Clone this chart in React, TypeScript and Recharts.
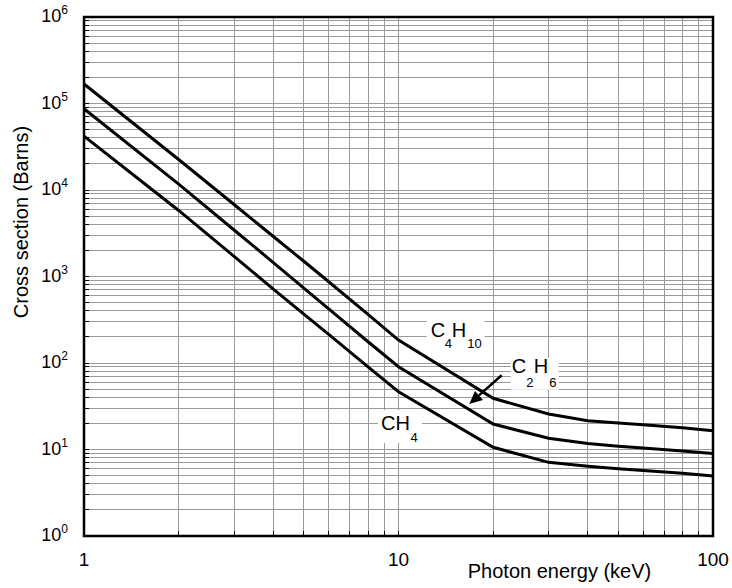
import React from 'react';
import { LineChart, Line, XAxis, YAxis, CartesianGrid, ReferenceArea, ReferenceDot } from 'recharts';

// photon energy (keV)
const energy = [1, 2, 3, 4, 5, 6, 8, 10, 20, 30, 40, 50, 60, 80, 100];
// cross sections (barns)
const c4h10 = [168000, 22500, 6800, 2900, 1500, 870, 365, 184, 39.1, 25.7, 21.5, 20.2, 19.3, 17.8, 16.5];
const c2h6 = [87000, 11700, 3450, 1450, 733, 422, 176, 90.6, 19.7, 13.5, 11.7, 10.9, 10.4, 9.6, 9.0];
const ch4 = [42000, 5800, 1710, 716, 367, 214, 90, 46.6, 10.6, 7.1, 6.4, 6.0, 5.7, 5.3, 4.95];

const xTicks = [1, 2, 3, 4, 5, 6, 7, 8, 9, 10, 20, 30, 40, 50, 60, 70, 80, 90, 100];
const xLabels = [1, 10, 100];
const decades = [0, 1, 2, 3, 4, 5];
const yTicks: number[] = [];
decades.forEach((d) => {
  for (let k = 1; k <= 9; k++) yTicks.push(k * Math.pow(10, d));
});
yTicks.push(1e6);

const data = energy.map((e, i) => ({ e, c4h10: c4h10[i], c2h6: c2h6[i], ch4: ch4[i] }));

const FONT = '"Liberation Sans", Arial, sans-serif';

function YTick(props: any) {
  const { x, y, payload } = props;
  const v = payload.value;
  const exp = Math.round(Math.log10(v));
  const major = Math.abs(v - Math.pow(10, exp)) < 1e-6 * v;
  return (
    <g>
      <line x1={x} y1={y} x2={x + 5} y2={y} stroke="#000" strokeWidth={1} shapeRendering="crispEdges" />
      {major && (
        <text x={x - 16} y={y + 5} textAnchor="end" fontSize={18} fill="#000">
          <tspan>10</tspan>
          <tspan dy={-8} fontSize={12}>{exp}</tspan>
        </text>
      )}
    </g>
  );
}

function XTick(props: any) {
  const { x, y, payload } = props;
  const v = payload.value;
  return (
    <g>
      <line x1={x} y1={y} x2={x} y2={y - 5} stroke="#000" strokeWidth={1} shapeRendering="crispEdges" />
      {xLabels.includes(v) && (
        <text x={x} y={y + 30} textAnchor="middle" fontSize={19} fill="#000">
          {v}
        </text>
      )}
    </g>
  );
}

function C4H10Label({ cx, cy }: any) {
  return (
    <g fill="#000">
      <rect x={cx - 5} y={cy - 17} width={58} height={33} fill="#fff" />
      <text x={cx - 1} y={cy} fontSize={20}>C</text>
      <text x={cx + 13} y={cy + 11.5} fontSize={13}>4</text>
      <text x={cx + 20} y={cy} fontSize={20}>H</text>
      <text x={cx + 35.5} y={cy + 11.5} fontSize={13}>10</text>
    </g>
  );
}

function C2H6Label({ cx, cy }: any) {
  // arrow from the label down to the middle curve
  const sx = cx - 11;
  const sy = cy + 2;
  const tx = cx - 43.4;
  const ty = cy + 30.7;
  const len = Math.hypot(tx - sx, ty - sy);
  const ux = (tx - sx) / len;
  const uy = (ty - sy) / len;
  const hl = 13;
  const hw = 6;
  const bx = tx - ux * hl;
  const by = ty - uy * hl;
  const head = `${tx},${ty} ${bx - uy * hw},${by + ux * hw} ${bx + uy * hw},${by - ux * hw}`;
  return (
    <g fill="#000">
      <rect x={cx - 2} y={cy - 15.5} width={48} height={32} fill="#fff" />
      <text x={cx - 1} y={cy} fontSize={20}>C</text>
      <text x={cx + 13.5} y={cy + 13.4} fontSize={13}>2</text>
      <text x={cx + 21} y={cy} fontSize={20}>H</text>
      <text x={cx + 36.5} y={cy + 13.4} fontSize={13}>6</text>
      <line x1={sx} y1={sy} x2={bx} y2={by} stroke="#000" strokeWidth={2.5} />
      <polygon points={head} fill="#000" />
    </g>
  );
}

function CH4Label({ cx, cy }: any) {
  return (
    <g fill="#000">
      <rect x={cx - 4} y={cy - 20} width={44} height={33} fill="#fff" />
      <text x={cx - 1} y={cy} fontSize={20}>CH</text>
      <text x={cx + 28.5} y={cy + 11.7} fontSize={13}>4</text>
    </g>
  );
}

export default function App() {
  return (
    <div style={{ position: 'absolute', left: 0, top: 0, width: 732, height: 588, background: '#fff', fontFamily: FONT }}>
      <LineChart width={732} height={588} data={data} margin={{ top: 17, right: 19, bottom: 0, left: 0 }}>
        <CartesianGrid stroke="#999" strokeWidth={1} shapeRendering="crispEdges" />
        <XAxis
          dataKey="e"
          type="number"
          scale="log"
          domain={[1, 100]}
          allowDataOverflow
          ticks={xTicks}
          interval={0}
          height={52}
          tickSize={0}
          tickMargin={0}
          axisLine={false}
          tickLine={false}
          tick={<XTick />}
          label={(p: any) => (
            <text x={559.5} y={578} textAnchor="middle" fontSize={20} fill="#000">
              Photon energy (keV)
            </text>
          )}
        />
        <YAxis
          type="number"
          scale="log"
          domain={[1, 1e6]}
          allowDataOverflow
          ticks={yTicks}
          interval={0}
          width={84}
          tickSize={0}
          tickMargin={0}
          axisLine={false}
          tickLine={false}
          tick={<YTick />}
          label={(p: any) => (
            <text x={28} y={222} transform="rotate(-90 28 222)" textAnchor="middle" fontSize={20} fill="#000">
              Cross section (Barns)
            </text>
          )}
        />
        <Line dataKey="c4h10" type="linear" stroke="#000" strokeWidth={3} dot={false} isAnimationActive={false} />
        <Line dataKey="c2h6" type="linear" stroke="#000" strokeWidth={3} dot={false} isAnimationActive={false} />
        <Line dataKey="ch4" type="linear" stroke="#000" strokeWidth={3} dot={false} isAnimationActive={false} />
        <ReferenceArea x1={1} x2={100} y1={1} y2={1e6} fill="none" stroke="#000" strokeWidth={2.5} />
        <ReferenceDot x={12.75} y={201} r={0} shape={(p: any) => <C4H10Label cx={p.cx} cy={p.cy} />} />
        <ReferenceDot x={23.07} y={76} r={0} shape={(p: any) => <C2H6Label cx={p.cx} cy={p.cy} />} />
        <ReferenceDot x={8.86} y={16.8} r={0} shape={(p: any) => <CH4Label cx={p.cx} cy={p.cy} />} />
      </LineChart>
    </div>
  );
}
